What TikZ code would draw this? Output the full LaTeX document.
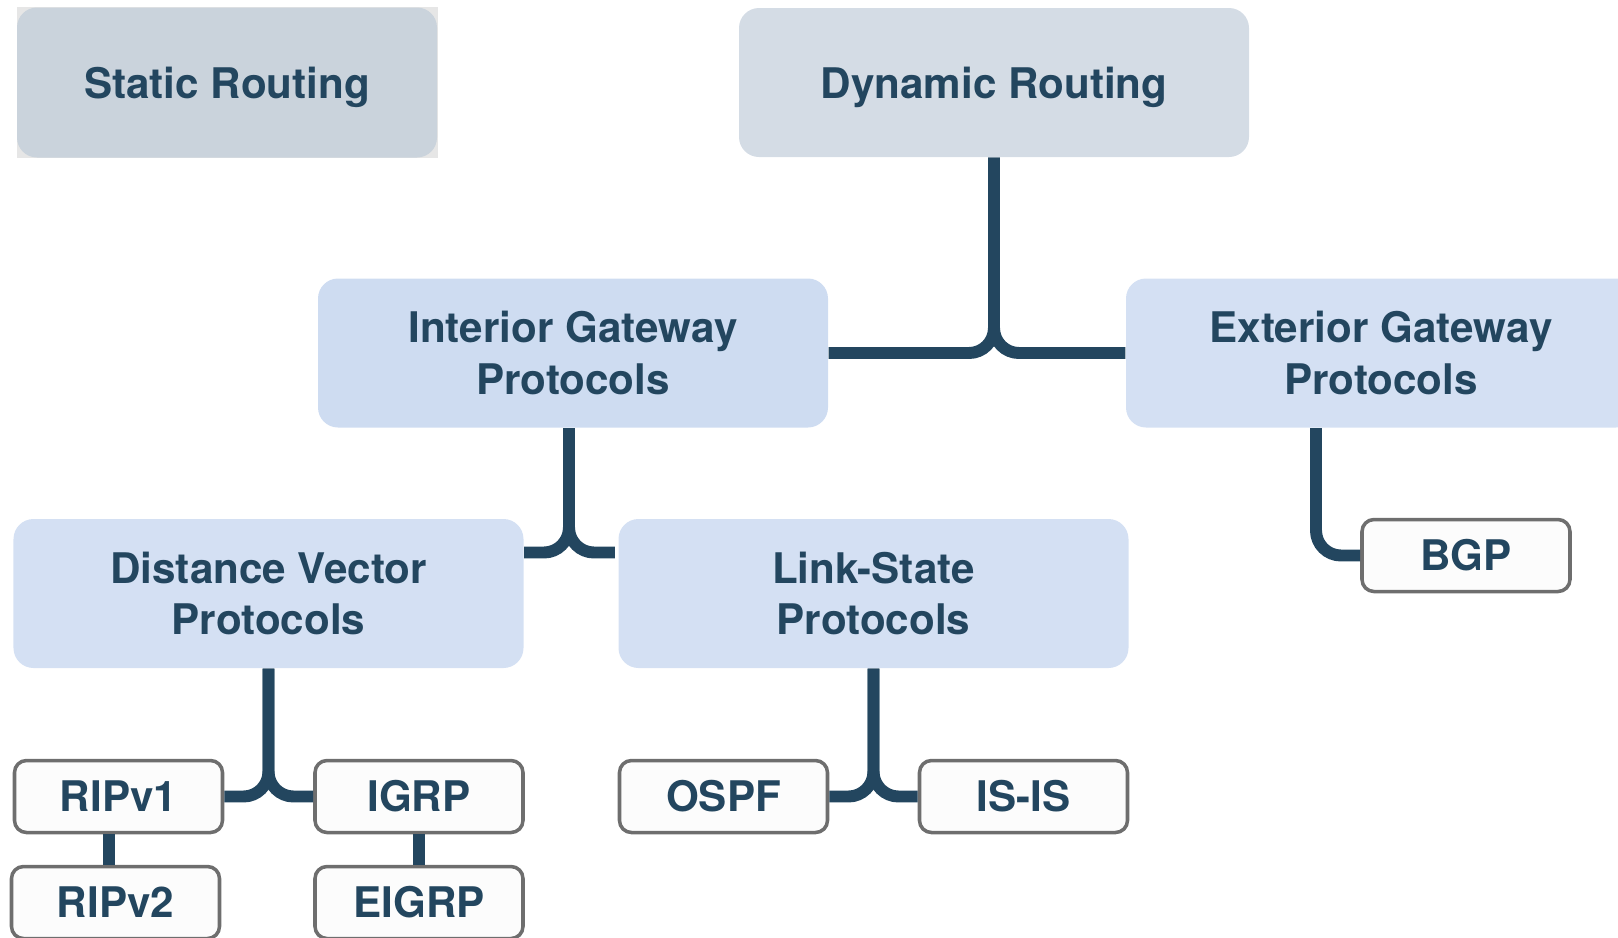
\documentclass[tikz,border=0pt]{standalone}
\usepackage{fontspec}
\setmainfont{TeX Gyre Heros}
\usepackage{tikz}

\definecolor{navy}{HTML}{23465F}
\definecolor{staticfill}{HTML}{CAD3DC}
\definecolor{staticbg}{HTML}{E6E6E6}
\definecolor{dynfill}{HTML}{D4DCE5}
\definecolor{igpfill}{HTML}{CEDCF1}
\definecolor{protofill}{HTML}{D4E0F3}
\definecolor{boxgray}{HTML}{6E6E6E}
\definecolor{boxwhite}{HTML}{FCFCFC}

\begin{document}
\begin{tikzpicture}[font=\fontsize{12}{14.7}\selectfont\bfseries,
  big/.style={rounded corners=2mm, minimum width=5.1cm, minimum height=1.49cm, align=center, text=navy, inner sep=0pt},
  small/.style={draw=boxgray, line width=1pt, fill=boxwhite, rounded corners=1.2mm, minimum width=2.08cm, minimum height=0.72cm, text=navy, inner sep=0pt},
  link/.style={navy, line width=3.4pt, rounded corners=2.5mm}]
  \useasboundingbox (0,0) rectangle (16.18,-9.37);
  \fill[staticbg] (0.17,-0.07) rectangle (4.38,-1.58);
  \node[big, fill=staticfill, minimum width=4.2cm, minimum height=1.5cm, text depth=0pt] (static) at (2.27,-0.825) {Static Routing};
  \node[big, fill=dynfill, text depth=0pt] (dynamic) at (9.94,-0.825) {Dynamic Routing};
  \node[big, fill=igpfill] (igp) at (5.73,-3.53) {Interior Gateway\\Protocols};
  \node[big, fill=protofill] (egp) at (13.81,-3.53) {Exterior Gateway\\Protocols};
  \node[big, fill=protofill] (dv) at (2.685,-5.935) {Distance Vector\\Protocols};
  \node[big, fill=protofill] (ls) at (8.735,-5.935) {Link-State\\Protocols};
  \node[small] (ripone) at (1.185,-7.965) {RIPv1};
  \node[small] (igrp) at (4.19,-7.965) {IGRP};
  \node[small] (riptwo) at (1.155,-9.025) {RIPv2};
  \node[small] (eigrp) at (4.19,-9.025) {EIGRP};
  \node[small] (ospf) at (7.235,-7.965) {OSPF};
  \node[small] (isis) at (10.235,-7.965) {IS-IS};
  \node[small] (bgp) at (14.66,-5.555) {BGP};
  % connectors
  \draw[link] (dynamic.south) |- (igp.east);
  \draw[link] (dynamic.south) |- (egp.west);
  \draw[link] ([xshift=-0.4mm]igp.south) |- ([yshift=4.1mm]dv.east);
  \draw[link] ([xshift=-0.4mm]igp.south) |- ([yshift=4.1mm,xshift=-0.3mm]ls.west);
  \draw[link] ([xshift=-6.5mm]egp.south) |- (bgp.west);
  \draw[link] (dv.south) |- (ripone.east);
  \draw[link] (dv.south) |- (igrp.west);
  \draw[link] (ls.south) |- (ospf.east);
  \draw[link] (ls.south) |- (isis.west);
  \draw[link] ([xshift=-0.95mm]ripone.south) -- ([xshift=-0.95mm]ripone.south |- riptwo.north);
  \draw[link] (igrp.south) -- (eigrp.north);
\end{tikzpicture}
\end{document}
